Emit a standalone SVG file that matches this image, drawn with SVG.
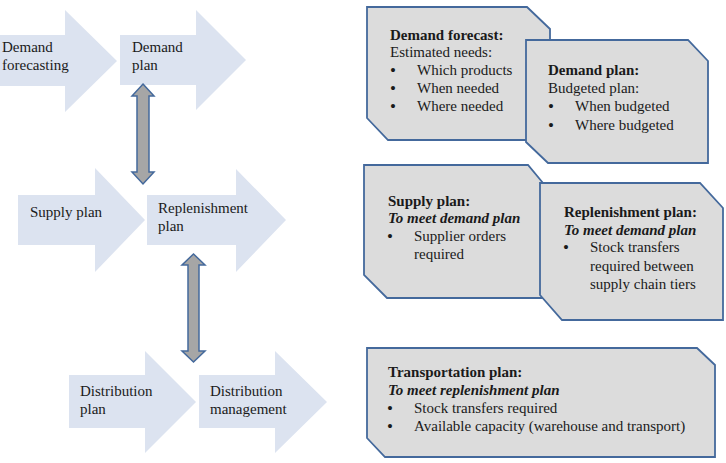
<svg xmlns="http://www.w3.org/2000/svg" width="726" height="463" viewBox="0 0 726 463">
<style>
.arr{fill:#dce3f0;stroke:none}
.dbl{fill:#a6a6a6;stroke:#44699c;stroke-width:1.5}
.box{fill:#dcdcdc;stroke:#44699c;stroke-width:1.8}
text{font-family:"Liberation Serif","Times New Roman",serif;font-size:15px;fill:#1a1a1a}
.b{font-weight:bold}
.bi{font-weight:bold;font-style:italic}
.u{font-size:17px}
</style>
<rect width="726" height="463" fill="#ffffff"/>
<g id="demand-forecasting">
<polygon class="arr" points="0,35 65,35 65,10 117,61 65,112 65,86 0,86"/>
<text x="2" y="52">Demand</text><text x="2" y="70">forecasting</text>
</g>
<g id="demand-plan">
<polygon class="arr" points="120,35 196,35 196,10 246,60 196,110 196,85 120,85"/>
<text x="132" y="52">Demand</text><text x="132" y="70">plan</text>
</g>
<g id="supply-plan">
<polygon class="arr" points="18,195 95,195 95,168 145,220 95,272 95,245 18,245"/>
<text x="30" y="217">Supply plan</text>
</g>
<g id="replenishment-plan">
<polygon class="arr" points="147,195 236,195 236,169 286,220 236,272 236,245 147,245"/>
<text x="158" y="213">Replenishment</text><text x="158" y="231">plan</text>
</g>
<g id="distribution-plan">
<polygon class="arr" points="69,375 145,375 145,351 196,402 145,453 145,428 69,428"/>
<text x="80" y="396">Distribution</text><text x="80" y="414">plan</text>
</g>
<g id="distribution-management">
<polygon class="arr" points="199,375 275,375 275,351 327,402 275,453 275,428 199,428"/>
<text x="210" y="396">Distribution</text><text x="210" y="414">management</text>
</g>
<g id="connectors">
<polygon class="dbl" points="143,84 154,96 149,96 149,172 154,172 143,184 132,172 137,172 137,96 132,96"/>
<polygon class="dbl" points="193.5,254 205,265 199,265 199,351 205,351 193.5,362 182,351 188,351 188,265 182,265"/>
</g>
<g id="box-demand-forecast">
<polygon class="box" points="367,7 527,7 550,29 550,140 388,140 367,118"/>
<text class="b" x="390" y="39.5">Demand forecast:</text>
<text x="390" y="57">Estimated needs:</text>
<text class="u" x="390" y="75.5">•</text><text x="417" y="75">Which products</text>
<text class="u" x="390" y="93.5">•</text><text x="417" y="93">When needed</text>
<text class="u" x="390" y="111.5">•</text><text x="417" y="111">Where needed</text>
</g>
<g id="box-demand-plan">
<polygon class="box" points="526,40 688,40 708,61 708,163 548,163 526,142"/>
<text class="b" x="548" y="75">Demand plan:</text>
<text x="548" y="93">Budgeted plan:</text>
<text class="u" x="548" y="111.5">•</text><text x="575" y="111">When budgeted</text>
<text class="u" x="548" y="130.5">•</text><text x="575" y="130">Where budgeted</text>
</g>
<g id="box-supply-plan">
<polygon class="box" points="364,165 528,165 543,183 543,298 387,298 364,275"/>
<text class="b" x="388" y="206">Supply plan:</text>
<text class="bi" x="388" y="223">To meet demand plan</text>
<text class="u" x="387" y="241.5">•</text><text x="414" y="241">Supplier orders</text>
<text x="414" y="259">required</text>
</g>
<g id="box-replenishment-plan">
<polygon class="box" points="540,183 700,183 723,208 723,320 562,320 540,295"/>
<text class="b" x="564" y="217">Replenishment plan:</text>
<text class="bi" x="564" y="235">To meet demand plan</text>
<text class="u" x="563" y="252.5">•</text><text x="590" y="252">Stock transfers</text>
<text x="590" y="271">required between</text>
<text x="590" y="289">supply chain tiers</text>
</g>
<g id="box-transportation-plan">
<polygon class="box" points="367,348 697,348 715,365 715,457 385,457 367,438"/>
<text class="b" x="388" y="377">Transportation plan:</text>
<text class="bi" x="388" y="395">To meet replenishment plan</text>
<text class="u" x="387" y="413.5">•</text><text x="414" y="413">Stock transfers required</text>
<text class="u" x="387" y="431.5">•</text><text x="414" y="431">Available capacity (warehouse and transport)</text>
</g>
</svg>
